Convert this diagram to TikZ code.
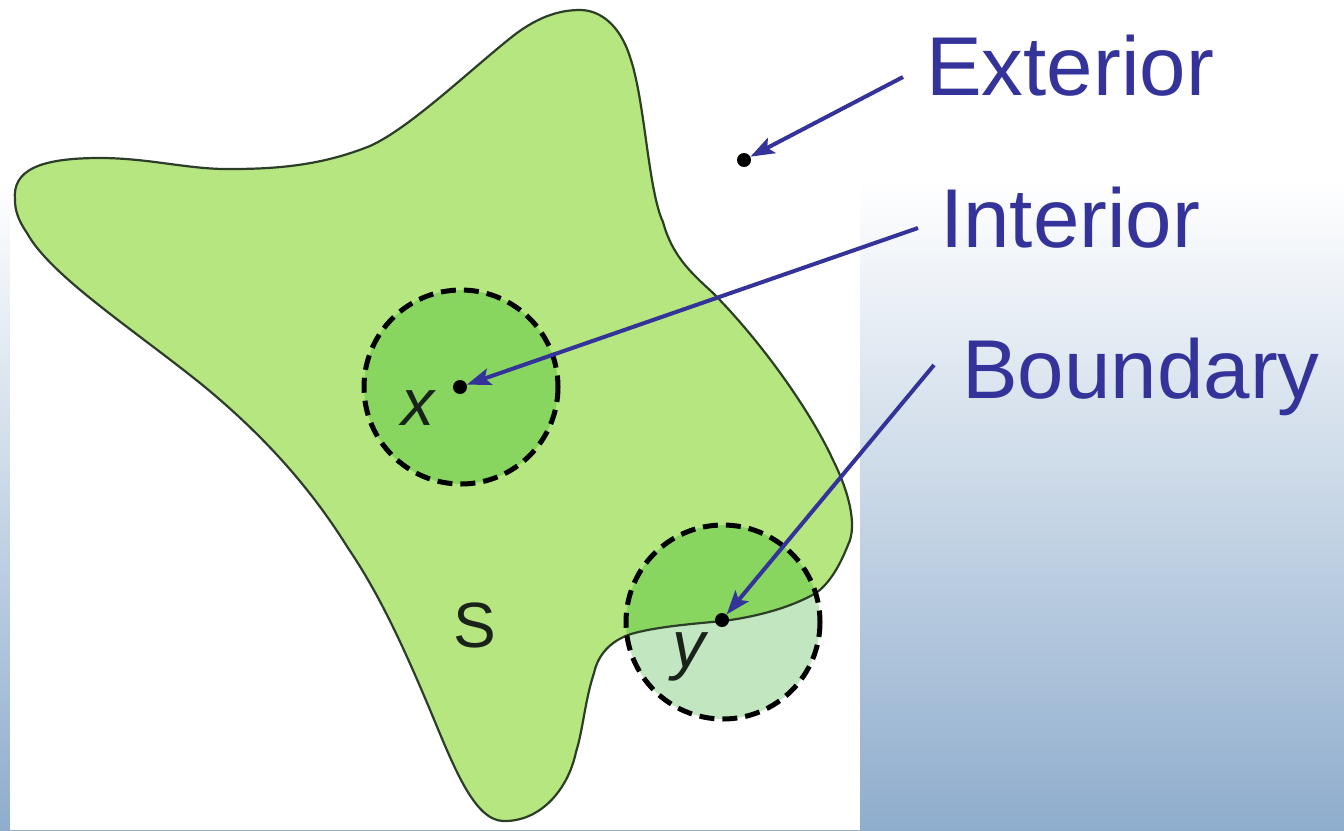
\documentclass[tikz,border=0pt]{standalone}
\usepackage{fontspec}
\setmainfont{Liberation Sans}
\usetikzlibrary{arrows.meta}
\definecolor{bgblue}{RGB}{143,173,205}
\definecolor{shapegreen}{RGB}{181,230,128}
\definecolor{ballgreen}{RGB}{136,214,96}
\definecolor{palegreen}{RGB}{194,231,192}
\definecolor{outlinecol}{RGB}{45,62,40}
\definecolor{labelblue}{RGB}{51,51,153}
\definecolor{inkcol}{RGB}{25,35,25}
\def\blobpath{(15,200)
 .. controls (12,170) and (40,158) .. (100,158)
 .. controls (150,158) and (190,170) .. (233,169)
 .. controls (290,169) and (330,162) .. (370,146)
 .. controls (410,128) and (470,70) .. (513,36)
 .. controls (540,15) and (562,10) .. (580,10)
 .. controls (600,10) and (620,25) .. (630,57)
 .. controls (645,100) and (648,190) .. (663,222)
 .. controls (672,255) and (690,272) .. (712,292)
 .. controls (760,340) and (810,410) .. (833,460)
 .. controls (848,490) and (858,525) .. (848,545)
 .. controls (840,565) and (830,583) .. (816,593)
 .. controls (790,608) and (755,617) .. (723,621)
 .. controls (690,624) and (655,627) .. (631,634)
 .. controls (610,641) and (598,655) .. (594,673)
 .. controls (585,700) and (583,730) .. (576,752)
 .. controls (568,790) and (540,822) .. (503,821)
 .. controls (475,820) and (455,770) .. (433,717)
 .. controls (405,650) and (380,595) .. (348,548)
 .. controls (315,495) and (270,440) .. (200,383)
 .. controls (130,327) and (50,275) .. (27,233)
 .. controls (18,220) and (15,210) .. (15,200) -- cycle}
\tikzset{
  bigtext/.style={font=\fontsize{83.5}{90}\selectfont, text=labelblue, inner sep=0pt, anchor=base west},
  mathtext/.style={font=\fontsize{66}{70}\selectfont\itshape, text=inkcol, inner sep=0pt},
  settext/.style={font=\fontsize{64}{70}\selectfont, text=inkcol, inner sep=0pt},
  ptdot/.style={circle, fill=black, minimum size=14pt, inner sep=0pt},
  pointer/.style={draw=labelblue, line width=4pt, -{Stealth[length=24pt,width=17pt,inset=5pt]}},
  ballline/.style={draw=black, line width=5pt, dash pattern=on 15pt off 8pt},
}
\begin{document}
\begin{tikzpicture}[x=1pt,y=-1pt]
\useasboundingbox (0,0) rectangle (1344,830);
% background
\fill[white] (0,0) rectangle (1344,180);
\shade[top color=white, bottom color=bgblue] (0,180) rectangle (1344,830);
\fill[white] (10,0) rectangle (860,830);
% set S
\fill[shapegreen] \blobpath;
% boundary ball (outside part)
\fill[palegreen] (723,622) circle (97);
\begin{scope}
  \clip \blobpath;
  \fill[ballgreen] (723,622) circle (97);
\end{scope}
% interior ball
\fill[ballgreen] (461,387) circle (97);
% outline of S
\draw[outlinecol, line width=2.2pt, line join=round] \blobpath;
% dashed balls
\draw[ballline] (461,387) circle (97);
\draw[ballline] (723,622) circle (97);
% labels in the picture
\node[settext] (S) at (475,625) {S};
\node[mathtext] (xl) at (418,408) {x};
\node[mathtext] (yl) at (689,657) {y};
% points
\node[ptdot] (pe) at (744,160) {};
\node[ptdot] (px) at (460,387) {};
\node[ptdot] (py) at (722,620) {};
% right labels
\node[bigtext] (ext) at (926,95) {Exterior};
\node[bigtext] (int) at (940,247) {Interior};
\node[bigtext] (bnd) at (962,398) {Boundary};
\coordinate (extA) at (903,77);
\coordinate (intA) at (918,228);
\coordinate (bndA) at (934,365);
\draw[pointer] (extA) -- (pe);
\draw[pointer] (intA) -- (px);
\draw[pointer] (bndA) -- (py);
\end{tikzpicture}
\end{document}
